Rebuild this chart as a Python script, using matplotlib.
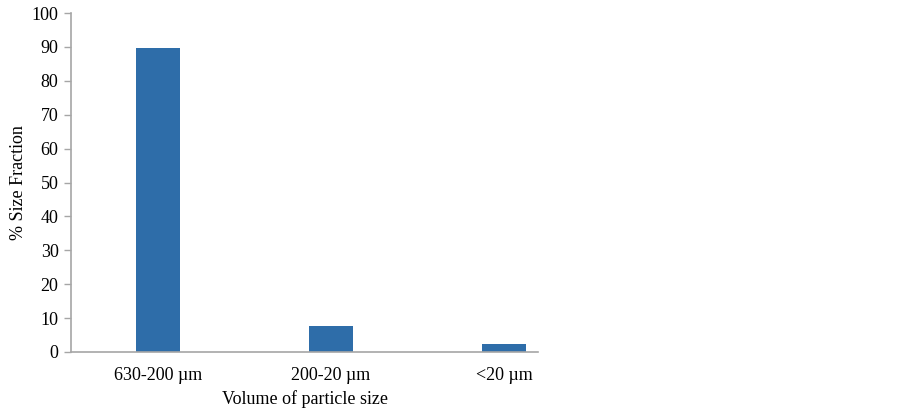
import matplotlib
matplotlib.use("Agg")
import matplotlib.pyplot as plt

categories = ["630-200 \u00b5m", "200-20 \u00b5m", "<20 \u00b5m"]
fractions = [89.8, 7.6, 2.4]
yticks = [0, 10, 20, 30, 40, 50, 60, 70, 80, 90, 100]

plt.rcParams["font.family"] = ["Liberation Serif", "DejaVu Serif"]

fig = plt.figure(figsize=(9.02, 4.12), dpi=100)
ax = fig.add_axes([71 / 902, 60 / 412, (538 - 71) / 902, (352 - 13) / 412])

pos = list(range(len(categories)))
ax.bar(pos, fractions, width=0.254, color="#2e6da9")

ax.set_xlim(-0.503, 2.197)
ax.set_ylim(0, 100)
ax.set_yticks(yticks)
ax.set_xticks(pos)
ax.set_xticklabels(categories)

for side in ("top", "right"):
    ax.spines[side].set_visible(False)
for side in ("left", "bottom"):
    ax.spines[side].set_color("#a6a6a6")
    ax.spines[side].set_linewidth(1.2)
ax.tick_params(axis="y", length=5, width=1, color="#a6a6a6",
               labelsize=13, pad=4)
ax.tick_params(axis="x", length=0, labelsize=13, pad=11)

ax.set_ylabel("% Size Fraction", fontsize=13, labelpad=3)
ax.set_xlabel("Volume of particle size", fontsize=13, labelpad=4)

fig.savefig("out.png", dpi=100)
